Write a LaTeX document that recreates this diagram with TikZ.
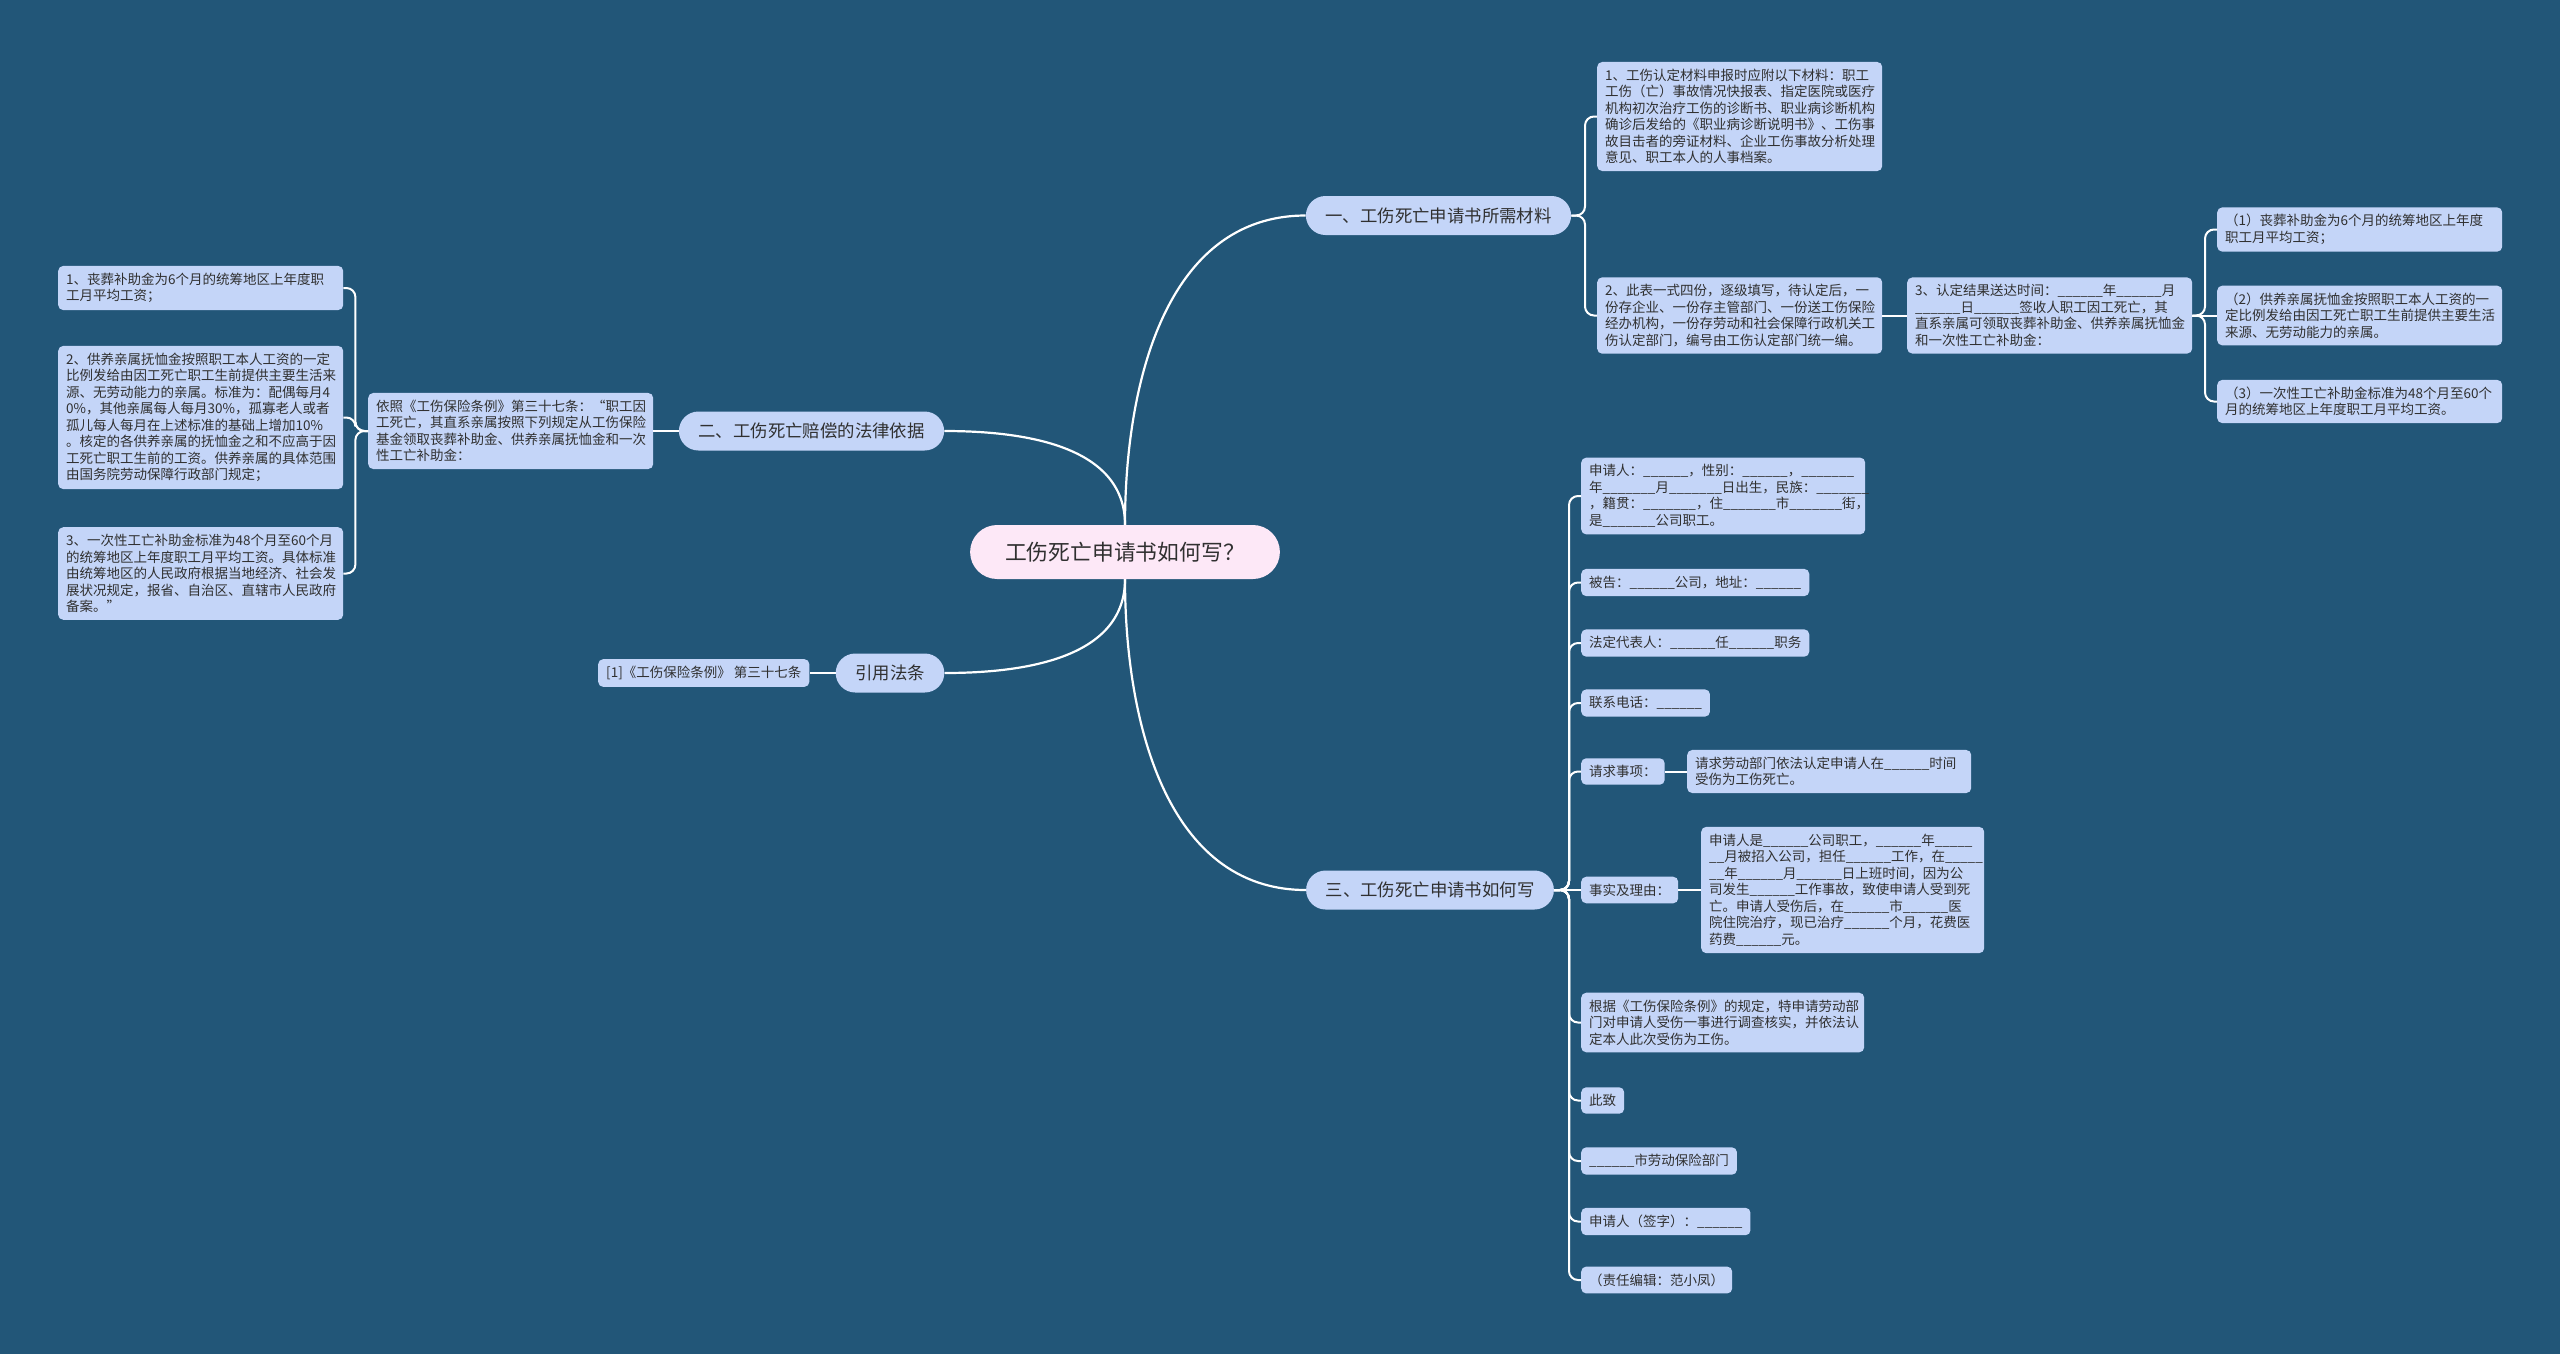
\documentclass[tikz,border=0pt]{standalone}
\usepackage{fontspec}
\setmainfont{Noto Sans CJK SC}
\definecolor{bgc}{RGB}{34,86,120}
\definecolor{leaf}{RGB}{196,213,248}
\definecolor{ctrc}{RGB}{253,232,247}
\definecolor{txt}{RGB}{48,48,48}
\newcommand\blnk{\_\_\_\_\_\_}
\tikzset{
  leafbox/.style={fill=leaf, rounded corners=5pt, text=txt,
    font=\fontsize{13.5}{16.5}\selectfont, inner xsep=8pt, inner ysep=7pt,
    anchor=west, align=left},
  multibox/.style={leafbox, text width=#1},
  brbox/.style={fill=leaf, rounded corners=19.5pt, minimum height=39pt,
    inner xsep=19.5pt, inner ysep=0pt, text=txt,
    font=\fontsize{17.4}{20}\selectfont},
  ctrbox/.style={fill=ctrc, rounded corners=27pt, minimum height=54pt,
    inner xsep=35pt, inner ysep=0pt, text=txt,
    font=\fontsize{21.8}{25}\selectfont},
  conn/.style={draw=white, line width=2pt, rounded corners=9pt},
  mainconn/.style={draw=white, line width=2.2pt},
}
\begin{document}
\begin{tikzpicture}[x=1pt,y=-1pt]
\useasboundingbox (0,0) rectangle (2560,1353);
\fill[bgc] (-10,-10) rectangle (2570,1363);

% centre and branches
\node[ctrbox] (ctr) at (1125,552) {工伤死亡申请书如何写？};
\node[brbox] (b1) at (1438.5,215.5) {一、工伤死亡申请书所需材料};
\node[brbox] (b2) at (811.5,431) {二、工伤死亡赔偿的法律依据};
\node[brbox] (yy) at (890,673) {引用法条};
\node[brbox] (b3) at (1430,890) {三、工伤死亡申请书如何写};

% branch 1
\node[multibox=269pt] (c1a) at (1597,116.5) {1、工伤认定材料申报时应附以下材料：职工\\
工伤（亡）事故情况快报表、指定医院或医疗\\
机构初次治疗工伤的诊断书、职业病诊断机构\\
确诊后发给的《职业病诊断说明书》、工伤事\\
故目击者的旁证材料、企业工伤事故分析处理\\
意见、职工本人的人事档案。};
\node[multibox=269pt] (c1b) at (1597,315.5) {2、此表一式四份，逐级填写，待认定后，一\\
份存企业、一份存主管部门、一份送工伤保险\\
经办机构，一份存劳动和社会保障行政机关工\\
伤认定部门，编号由工伤认定部门统一编。};
\node[multibox=269pt] (c1c) at (1907,315.5) {3、认定结果送达时间：\blnk 年\blnk 月\\
\blnk 日\blnk 签收人职工因工死亡，其\\
直系亲属可领取丧葬补助金、供养亲属抚恤金\\
和一次性工亡补助金：};
\node[multibox=269pt] (cc1) at (2217,229.5) {（1）丧葬补助金为6个月的统筹地区上年度\\
职工月平均工资；};
\node[multibox=269pt] (cc2) at (2217,315.5) {（2）供养亲属抚恤金按照职工本人工资的一\\
定比例发给由因工死亡职工生前提供主要生活\\
来源、无劳动能力的亲属。};
\node[multibox=269pt] (cc3) at (2217,401.5) {（3）一次性工亡补助金标准为48个月至60个\\
月的统筹地区上年度职工月平均工资。};

% branch 2
\node[multibox=269pt] (lp) at (368,431) {依照《工伤保险条例》第三十七条：“职工因\\
工死亡，其直系亲属按照下列规定从工伤保险\\
基金领取丧葬补助金、供养亲属抚恤金和一次\\
性工亡补助金：};
\node[multibox=269pt] (l1) at (58,288) {1、丧葬补助金为6个月的统筹地区上年度职\\
工月平均工资；};
\node[multibox=269pt] (l2) at (58,417.5) {2、供养亲属抚恤金按照职工本人工资的一定\\
比例发给由因工死亡职工生前提供主要生活来\\
源、无劳动能力的亲属。标准为：配偶每月4\\
0\%，其他亲属每人每月30\%，孤寡老人或者\\
孤儿每人每月在上述标准的基础上增加10\%\\
。核定的各供养亲属的抚恤金之和不应高于因\\
工死亡职工生前的工资。供养亲属的具体范围\\
由国务院劳动保障行政部门规定；};
\node[multibox=269pt] (l3) at (58,573.5) {3、一次性工亡补助金标准为48个月至60个月\\
的统筹地区上年度职工月平均工资。具体标准\\
由统筹地区的人民政府根据当地经济、社会发\\
展状况规定，报省、自治区、直辖市人民政府\\
备案。”};

% cited law
\node[leafbox] (refc) at (598,673) {[1]《工伤保险条例》 第三十七条};

% branch 3
\node[multibox=268pt] (r1) at (1581,496) {申请人：\blnk，性别：\blnk，\blnk\_\\
年\blnk\_月\blnk\_日出生，民族：\blnk\_\\
，籍贯：\blnk\_，住\blnk\_市\blnk\_街，\\
是\blnk\_公司职工。};
\node[leafbox] (r2) at (1581,582.5) {被告：\blnk 公司，地址：\blnk};
\node[leafbox] (r3) at (1581,643) {法定代表人：\blnk 任\blnk 职务};
\node[leafbox] (r4) at (1581,703) {联系电话：\blnk};
\node[leafbox] (r5) at (1581,771.5) {请求事项：};
\node[multibox=268pt] (r5c) at (1687,771.5) {请求劳动部门依法认定申请人在\blnk 时间\\
受伤为工伤死亡。};
\node[leafbox] (r6) at (1581,890) {事实及理由：};
\node[multibox=267pt] (r6c) at (1701,890) {申请人是\blnk 公司职工，\blnk 年\_\_\_\_\_\\
\_\_月被招入公司，担任\blnk 工作，在\_\_\_\_\_\\
\_\_年\blnk 月\blnk 日上班时间，因为公\\
司发生\blnk 工作事故，致使申请人受到死\\
亡。申请人受伤后，在\blnk 市\blnk 医\\
院住院治疗，现已治疗\blnk 个月，花费医\\
药费\blnk 元。};
\node[multibox=267pt] (r7) at (1581,1022.5) {根据《工伤保险条例》的规定，特申请劳动部\\
门对申请人受伤一事进行调查核实，并依法认\\
定本人此次受伤为工伤。};
\node[leafbox] (r8) at (1581,1100.5) {此致};
\node[leafbox] (r9) at (1581,1161) {\blnk 市劳动保险部门};
\node[leafbox] (r10) at (1581,1221.5) {申请人（签字）：\blnk};
\node[leafbox] (r11) at (1581,1280) {（责任编辑：范小凤）};

% connectors from centre
\draw[mainconn] (ctr.north) to[out=90,in=180] (b1.west);
\draw[mainconn] (ctr.north) to[out=90,in=0] (b2.east);
\draw[mainconn] (ctr.south) to[out=-90,in=0] (yy.east);
\draw[mainconn] (ctr.south) to[out=-90,in=180] (b3.west);

% branch 1 connectors
\foreach \c in {c1a,c1b}
  \draw[conn] (b1.east) -| ([xshift=-12pt]\c.west) -- (\c.west);
\draw[conn] (c1b.east) -- (c1c.west);
\foreach \c in {cc1,cc3}
  \draw[conn] (c1c.east) -| ([xshift=-12pt]\c.west) -- (\c.west);
\draw[conn] (c1c.east) -- (cc2.west);

% branch 2 connectors
\draw[conn] (b2.west) -- (lp.east);
\foreach \c in {l1,l2,l3}
  \draw[conn] (lp.west) -| ([xshift=12pt]\c.east) -- (\c.east);

% cited law connector
\draw[conn] (yy.west) -- (refc.east);

% branch 3 connectors
\foreach \c in {r1,r2,r3,r4,r5,r7,r8,r9,r10,r11}
  \draw[conn] (b3.east) -| ([xshift=-12pt]\c.west) -- (\c.west);
\draw[conn] (b3.east) -- (r6.west);
\draw[conn] (r5.east) -- (r5c.west);
\draw[conn] (r6.east) -- (r6c.west);
\end{tikzpicture}
\end{document}
